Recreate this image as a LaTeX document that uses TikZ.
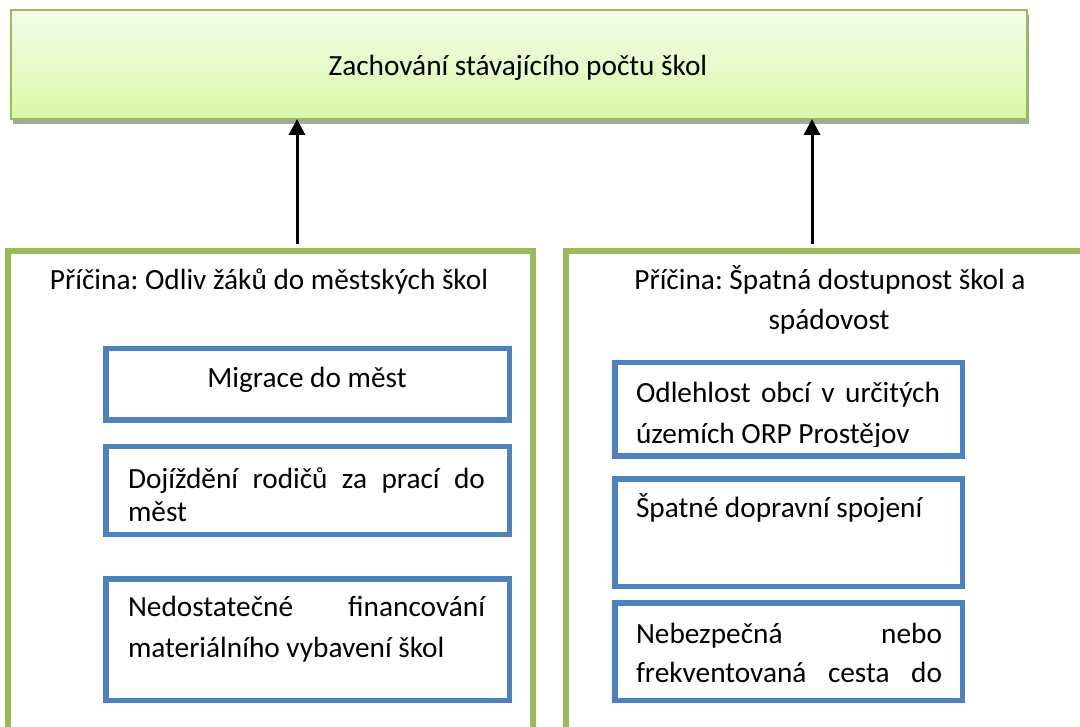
\documentclass[tikz,border=0pt]{standalone}
\usepackage{fontspec}
\setmainfont{Carlito}
\usetikzlibrary{shadows,arrows.meta}
\definecolor{ogreen}{HTML}{9BBB59}
\definecolor{oblue}{HTML}{4F81BD}
\definecolor{gtop}{HTML}{F4FDEA}
\definecolor{gbot}{HTML}{D9F9A8}
\definecolor{shadowgray}{HTML}{A5A5A5}
\frenchspacing
\tikzset{
  txt/.style={inner sep=0pt, outer sep=0pt, font=\fontsize{29.3}{40}\selectfont, text=black},
  topbox/.style={draw=ogreen, line width=2pt, top color=gtop, bottom color=gbot,
    drop shadow={shadow xshift=2pt, shadow yshift=-5pt, fill=shadowgray, opacity=1},
    inner sep=0pt, outer sep=0pt},
  causebox/.style={draw=ogreen, line width=6pt, fill=white, inner sep=0pt, outer sep=0pt},
  itembox/.style={draw=oblue, line width=5.5pt, fill=white, inner sep=0pt, outer sep=0pt},
  uparrow/.style={line width=3pt, -{Triangle[width=16pt,length=16pt]}},
}
\begin{document}
\begin{tikzpicture}[x=1pt,y=-1pt]
\useasboundingbox (0,0) rectangle (1080,727);
\clip (0,0) rectangle (1080,727);
\fill[white] (0,0) rectangle (1080,727);

% top box
\node[topbox, minimum width=1016pt, minimum height=109pt] (top) at (519,64.5) {};
\node[txt, anchor=base] (toptxt) at (518,76) {Zachování stávajícího počtu škol};

% cause boxes
\node[causebox, minimum width=525pt, minimum height=509pt] (left) at (270.5,505.5) {};
\node[causebox, minimum width=534pt, minimum height=509pt] (right) at (833,505.5) {};

\node[txt, anchor=base] (lhead) at (269,290) {Příčina: Odliv žáků do městských škol};
\node[txt, anchor=base] (rhead1) at (830,290) {Příčina: Špatná dostupnost škol a};
\node[txt, anchor=base] (rhead2) at (829,330) {spádovost};

% arrows
\coordinate (a1) at (297,244);
\coordinate (a2) at (812,244);
\draw[uparrow] (a1) -- (a1 |- top.south);
\draw[uparrow] (a2) -- (a2 |- top.south);

% left items
\node[itembox, minimum width=403.5pt, minimum height=71.5pt] (l1) at (307.5,384.5) {};
\node[itembox, minimum width=403.5pt, minimum height=87.5pt] (l2) at (307.5,490.5) {};
\node[itembox, minimum width=403.5pt, minimum height=121.5pt] (l3) at (307.5,639.5) {};

\node[txt, anchor=base] (l1t) at (307,388) {Migrace do měst};
\node[txt, anchor=base west] (l2a) at (128,489) {\makebox[357pt][s]{Dojíždění\hfill rodičů\hfill za\hfill prací\hfill do}};
\node[txt, anchor=base west] (l2b) at (128,521) {měst};
\node[txt, anchor=base west] (l3a) at (128,616) {\makebox[357pt][s]{Nedostatečné\hfill financování}};
\node[txt, anchor=base west] (l3b) at (128,657) {materiálního vybavení škol};

% right items
\node[itembox, minimum width=347.5pt, minimum height=93.5pt] (r1) at (788.5,409.5) {};
\node[itembox, minimum width=347.5pt, minimum height=107.5pt] (r2) at (788.5,532.5) {};
\node[itembox, minimum width=347.5pt, minimum height=97.5pt] (r3) at (788.5,651.5) {};

\begin{scope}
\clip (612,360) rectangle (965,447);
\node[txt, anchor=base west] (r1a) at (636,403) {\makebox[304pt][s]{Odlehlost\hfill obcí\hfill v\hfill určitých}};
\node[txt, anchor=base west] (r1b) at (636,443) {územích ORP Prostějov};
\end{scope}
\node[txt, anchor=base west] (r2a) at (636,518) {Špatné dopravní spojení};
\node[txt, anchor=base west] (r3a) at (636,643) {\makebox[306pt][s]{Nebezpečná\hfill nebo}};
\node[txt, anchor=base west] (r3b) at (636,682) {\makebox[306pt][s]{frekventovaná\hfill cesta\hfill do}};
\end{tikzpicture}
\end{document}
